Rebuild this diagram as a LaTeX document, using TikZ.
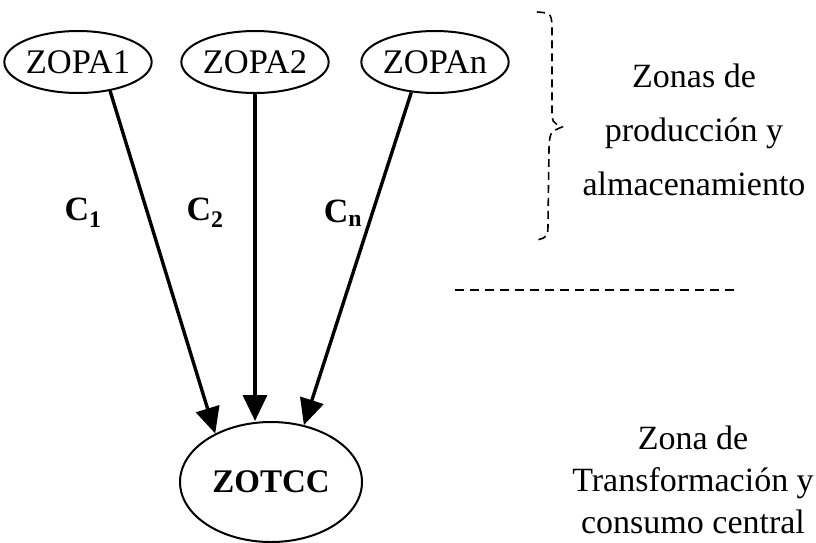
\documentclass[tikz,border=0pt]{standalone}
\usepackage{fontspec}
\setmainfont{Liberation Serif}
\usetikzlibrary{arrows.meta,shapes.geometric}
\tikzset{
  zone/.style={draw, ellipse, line width=2pt, inner sep=0pt},
  src/.style={zone, minimum height=62pt, font=\fontsize{34.5}{38}\selectfont},
  flow/.style={line width=3.4pt, -{Triangle[length=26pt,width=24pt]}},
  sep/.style={line width=1.6pt, dash pattern=on 9pt off 6pt},
  side/.style={align=center},
  lbl/.style={font=\fontsize{34}{38}\selectfont\bfseries}
}
\begin{document}
\begin{tikzpicture}[x=1pt,y=-1pt]
\useasboundingbox (0,0) rectangle (816,542);
% source zones
\node[src, minimum width=140pt] (zopa1) at (78,62) {ZOPA1};
\node[src, minimum width=138pt] (zopa2) at (255,62) {ZOPA2};
\node[src, minimum width=132pt] (zopan) at (435,62) {ZOPAn};
% central zone
\node[zone, minimum width=182pt, minimum height=120pt, font=\fontsize{33}{36}\selectfont\bfseries] (zotcc) at (271,482) {ZOTCC};
% flows
\draw[flow] (zopa1.-42) -- (zotcc.139);
\draw[flow] (zopa2.south) -- (zopa2.south |- zotcc.north);
\draw[flow] (zopan.-128) -- (zotcc.60);
\node[lbl] (c1) at (83,213) {C\textsubscript{1}};
\node[lbl] (c2) at (205,213) {C\textsubscript{2}};
\node[lbl] (cn) at (343,213) {C\textsubscript{n}};
% dashed brace
\draw[sep, dash pattern=on 8pt off 5pt]
  (537,12) .. controls (552,13) .. (552,35) -- (552,110)
  .. controls (552,122) .. (562,127)
  .. controls (550,132) .. (549,148) -- (548,222)
  .. controls (548,237) .. (537,240);
\node[side, font=\fontsize{34}{54}\selectfont] (top) at (694,130) {Zonas de\\producción y\\almacenamiento};
% divider
\coordinate (d1) at (455,290);
\coordinate (d2) at (735,290);
\draw[sep] (d1) -- (d2);
\node[side, font=\fontsize{34}{42}\selectfont] (bottom) at (693,480) {Zona de\\Transformación y\\consumo central};
\end{tikzpicture}
\end{document}
